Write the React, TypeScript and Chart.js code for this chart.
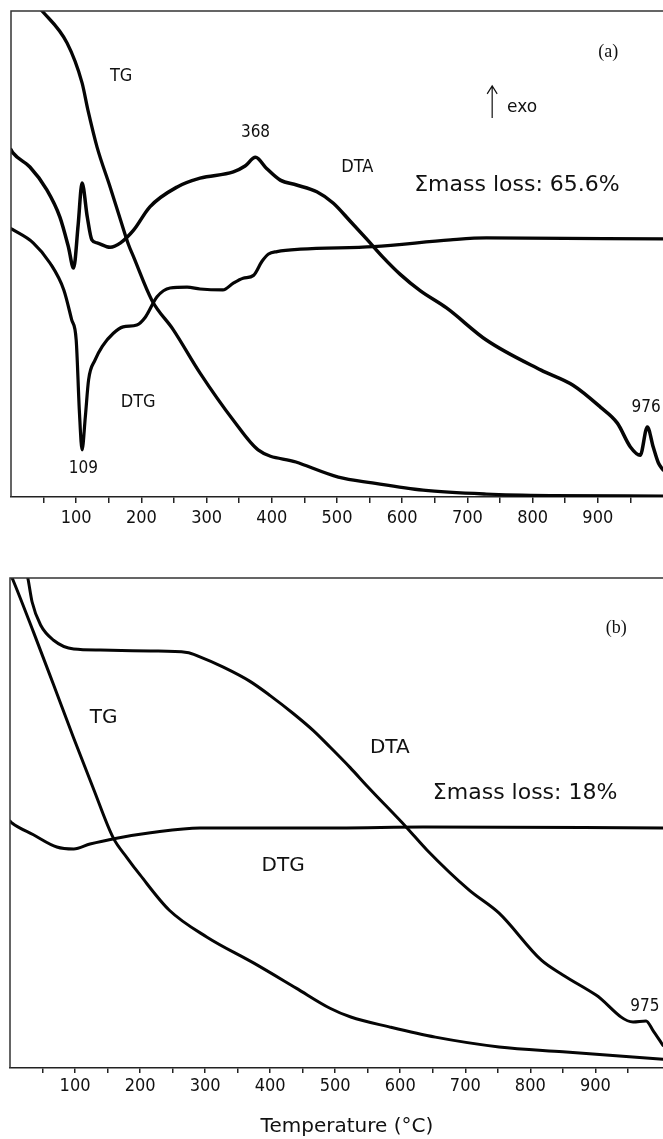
import React, { useEffect, useRef } from 'react';
import { Chart, registerables } from 'chart.js';

Chart.register(...registerables);

const COND = "'DejaVu Sans Condensed', 'Liberation Sans Narrow', 'DejaVu Sans', sans-serif";
const SANS = "'DejaVu Sans', Verdana, sans-serif";
const SERIF = "'Liberation Serif', 'DejaVu Serif', serif";

// x-axis tick labels (°C)
const tickLabels = [100, 200, 300, 400, 500, 600, 700, 800, 900];

// ---------- Panel (a) ----------
const tgA_T = [0, 25, 49, 86, 109, 118, 132, 152, 168, 180, 188, 216, 249, 290, 341, 379, 437, 502, 554, 632, 729, 827, 1000];
const tgA_V = [106, 103, 99.8, 93.4, 85.2, 79.6, 72.0, 63.8, 57.0, 52.0, 49.4, 40.5, 34.4, 25.5, 15.8, 9.7, 7.2, 4.1, 2.9, 1.4, 0.6, 0.3, 0.2];

const dtaA_T = [0, 3, 29, 55, 75, 88, 96, 103, 109, 117, 124, 132, 152, 168, 188, 213, 255, 290, 341, 359, 375, 392, 413, 438, 469, 494, 520, 546, 570, 597, 628, 668, 729, 813, 862, 904, 930, 950, 965, 976, 985, 993, 1000];
const dtaA_V = [71.5, 70.8, 67.9, 63.2, 57.6, 51.5, 47.1, 56.0, 64.6, 57.6, 52.9, 52.3, 51.4, 52.3, 54.9, 59.7, 63.8, 65.6, 66.9, 68.1, 69.9, 67.6, 65.2, 64.2, 62.8, 60.5, 56.8, 53.0, 49.4, 45.8, 42.4, 38.9, 32.3, 26.1, 23.0, 18.5, 15.2, 10.3, 8.6, 14.4, 10.3, 7.0, 5.6];

const dtgA_T = [0, 4, 34, 60, 81, 93, 100, 105, 109, 114, 119, 129, 140, 157, 172, 193, 206, 224, 244, 270, 290, 325, 341, 356, 372, 385, 395, 408, 444, 556, 674, 729, 1000];
const dtgA_V = [55.2, 54.9, 52.3, 48.1, 42.6, 36.5, 32.3, 17.3, 9.7, 16.5, 24.1, 28.2, 31.0, 33.7, 35.0, 35.4, 37.0, 41.2, 43.0, 43.2, 42.8, 42.6, 44.0, 45.0, 45.6, 48.5, 50.0, 50.5, 51.0, 51.5, 52.9, 53.3, 53.1];

// ---------- Panel (b) ----------
const tgB_T = [0, 4.6, 36, 67, 98, 128, 159, 180, 200, 245, 303, 375, 440, 492, 524, 583, 654, 752, 850, 1004];
const tgB_V = [101, 99.6, 89.0, 78.2, 67.3, 57.1, 46.9, 42.9, 39.4, 32.2, 26.7, 21.4, 16.3, 12.2, 10.4, 8.4, 6.3, 4.3, 3.3, 1.8];

const dtaB_T = [0, 15, 28, 34, 47, 67, 98, 139, 216, 272, 292, 328, 369, 400, 435, 466, 492, 523, 550, 609, 641, 706, 752, 817, 850, 901, 958, 978, 988, 1004];
const dtaB_V = [118, 108, 99.6, 95.1, 90.4, 87.3, 85.5, 85.3, 85.1, 84.8, 83.9, 81.8, 78.9, 76.0, 72.4, 68.9, 65.5, 61.3, 57.4, 49.2, 44.5, 36.3, 31.6, 22.0, 19.0, 14.9, 9.4, 9.6, 7.8, 4.6];

const dtgB_T = [0, 3, 36, 72, 98, 123, 164, 216, 292, 505, 635, 1004];
const dtgB_V = [50.4, 50.0, 47.6, 45.1, 44.7, 45.7, 46.9, 48.0, 49.0, 49.0, 49.2, 49.0];

// ---------- Annotations (x in °C, y in plot units) ----------
const notesA = [
  { text: 'TG', x: 169, y: 86.6, size: 18, family: COND },
  { text: '368', x: 375, y: 74.9, size: 17, family: COND },
  { text: 'DTA', x: 531, y: 67.9, size: 18, family: COND },
  { text: 'exo', x: 784, y: 80.2, size: 17, family: SANS },
  { text: '\u03A3mass loss: 65.6%', x: 776, y: 64.2, size: 22, family: SANS },
  { text: '(a)', x: 916, y: 91.6, size: 18, family: SERIF },
  { text: 'DTG', x: 195, y: 19.5, size: 18, family: COND },
  { text: '109', x: 111, y: 5.8, size: 17, family: COND },
  { text: '976', x: 974, y: 18.3, size: 17, family: COND },
];
const arrowsA = [{ x: 738, y0: 78.0, y1: 84.6 }];

const notesB = [
  { text: '(b)', x: 932, y: 89.8, size: 18, family: SERIF },
  { text: 'TG', x: 144, y: 71.4, size: 20, family: SANS },
  { text: 'DTA', x: 584, y: 65.3, size: 20, family: SANS },
  { text: '\u03A3mass loss: 18%', x: 792, y: 56.1, size: 22, family: SANS },
  { text: 'DTG', x: 420, y: 41.2, size: 20, family: SANS },
  { text: '975', x: 976, y: 12.5, size: 17, family: COND },
  { text: 'Temperature (\u00B0C)', x: 518, y: -12.0, size: 20, family: SANS },
];

function series(T: number[], V: number[], width: number) {
  return {
    data: T.map((t, i) => ({ x: t, y: V[i] })),
    borderColor: '#050505',
    borderWidth: width,
    pointRadius: 0,
    fill: false,
    cubicInterpolationMode: 'monotone' as const,
    borderJoinStyle: 'round' as const,
    borderCapStyle: 'round' as const,
  };
}

function framePlugin(notes: any[], arrows: any[]) {
  return {
    id: 'frameNotes',
    afterDatasetsDraw(chart: any) {
      const { ctx, chartArea: a, scales } = chart;
      ctx.save();
      ctx.strokeStyle = '#333';
      ctx.lineWidth = 1.5;
      ctx.beginPath();
      ctx.moveTo(a.left, a.bottom);
      ctx.lineTo(a.left, a.top);
      ctx.lineTo(a.right + 2, a.top);
      ctx.stroke();
      ctx.fillStyle = '#111';
      ctx.textAlign = 'center';
      ctx.textBaseline = 'middle';
      for (const n of notes) {
        ctx.font = `${n.size}px ${n.family}`;
        ctx.fillText(n.text, scales.x.getPixelForValue(n.x), scales.y.getPixelForValue(n.y));
      }
      ctx.strokeStyle = '#111';
      ctx.lineWidth = 1.2;
      for (const ar of arrows) {
        const px = scales.x.getPixelForValue(ar.x);
        const p0 = scales.y.getPixelForValue(ar.y0);
        const p1 = scales.y.getPixelForValue(ar.y1);
        ctx.beginPath();
        ctx.moveTo(px, p0);
        ctx.lineTo(px, p1);
        ctx.moveTo(px - 5, p1 + 8);
        ctx.lineTo(px, p1);
        ctx.lineTo(px + 5, p1 + 8);
        ctx.stroke();
      }
      ctx.restore();
    },
  };
}

function makeConfig(opts: {
  datasets: any[];
  xMax: number;
  padTop: number;
  padLeft: number;
  axisHeight: number;
  tickLength: number;
  tickPadding: number;
  notes: any[];
  arrows: any[];
}) {
  return {
    type: 'line' as const,
    data: { datasets: opts.datasets },
    options: {
      responsive: false,
      animation: false as const,
      events: [],
      layout: { padding: { left: opts.padLeft, top: opts.padTop, right: 0, bottom: 0 } },
      plugins: { legend: { display: false }, tooltip: { enabled: false } },
      scales: {
        x: {
          type: 'linear' as const,
          min: 0,
          max: opts.xMax,
          afterFit: (s: any) => {
            s.height = opts.axisHeight;
            s.paddingLeft = 0;
            s.paddingRight = 0;
          },
          border: { display: true, color: '#222', width: 1.5 },
          grid: {
            display: true,
            drawOnChartArea: false,
            drawTicks: true,
            tickLength: opts.tickLength,
            lineWidth: 1.5,
            color: (c: any) =>
              c.tick && (c.tick.value <= 0 || c.tick.value >= 1000) ? 'rgba(0,0,0,0)' : '#222',
          },
          ticks: {
            stepSize: 50,
            includeBounds: false,
            autoSkip: false,
            maxRotation: 0,
            minRotation: 0,
            padding: opts.tickPadding,
            color: '#111',
            font: { family: COND, size: 18 },
            callback: (v: any) => (tickLabels.includes(Number(v)) ? String(v) : ''),
          },
        },
        y: { display: false, min: 0, max: 100 },
      },
    },
    plugins: [framePlugin(opts.notes, opts.arrows)],
  };
}

function Panel(props: { top: number; height: number; config: any }) {
  const ref = useRef<HTMLCanvasElement | null>(null);
  useEffect(() => {
    if (!ref.current) return;
    const chart = new Chart(ref.current, props.config);
    return () => chart.destroy();
  }, []);
  return (
    <canvas
      ref={ref}
      width={663}
      height={props.height}
      style={{ position: 'absolute', left: 0, top: props.top, width: 663, height: props.height }}
    />
  );
}

export default function App() {
  const cfgA = makeConfig({
    datasets: [series(tgA_T, tgA_V, 3.3), series(dtaA_T, dtaA_V, 3.5), series(dtgA_T, dtgA_V, 3.2)],
    xMax: 1000,
    padTop: 11,
    padLeft: 11,
    axisHeight: 63,
    tickLength: 6,
    tickPadding: 5,
    notes: notesA,
    arrows: arrowsA,
  });
  const cfgB = makeConfig({
    datasets: [series(tgB_T, tgB_V, 3), series(dtaB_T, dtaB_V, 3), series(dtgB_T, dtgB_V, 3)],
    xMax: 1004,
    padTop: 13,
    padLeft: 10,
    axisHeight: 71,
    tickLength: 5,
    tickPadding: 3,
    notes: notesB,
    arrows: [],
  });
  return (
    <div
      style={{
        position: 'fixed',
        left: 0,
        top: 0,
        width: 663,
        height: 1139,
        overflow: 'hidden',
        background: '#fff',
      }}
    >
      <Panel top={0} height={560} config={cfgA} />
      <Panel top={565} height={574} config={cfgB} />
    </div>
  );
}
